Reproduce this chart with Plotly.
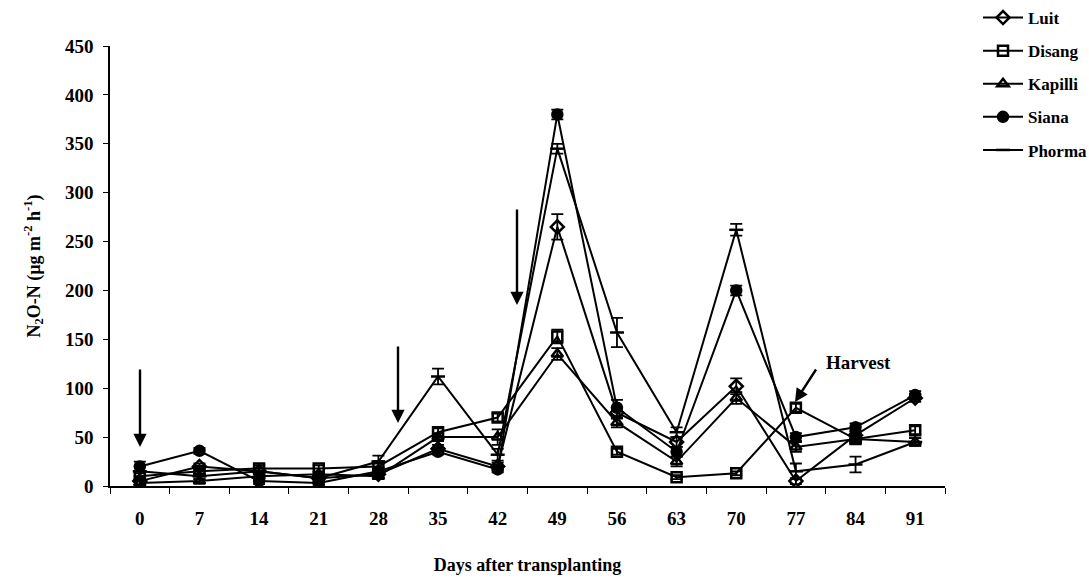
import plotly.graph_objects as go

days = [0, 7, 14, 21, 28, 35, 42, 49, 56, 63, 70, 77, 84, 91]
day_labels = [str(d) for d in days]

luit = [5, 20, 15, 8, 12, 38, 20, 265, 75, 45, 102, 5, 52, 90]
luit_err = [3, 3, 3, 2, 3, 4, 4, 13, 6, 5, 8, 3, 4, 4]

disang = [10, 15, 18, 18, 20, 55, 70, 153, 35, 9, 13, 80, 48, 57]
disang_err = [3, 3, 3, 3, 3, 4, 4, 7, 3, 2, 2, 4, 4, 4]

kapilli = [3, 5, 10, 12, 10, 50, 50, 135, 65, 25, 90, 40, 48, 45]
kapilli_err = [2, 2, 3, 2, 3, 4, 8, 6, 5, 5, 6, 5, 4, 4]

siana = [20, 36, 5, 3, 15, 35, 17, 380, 80, 35, 200, 50, 60, 93]
siana_err = [5, 3, 3, 2, 3, 3, 3, 5, 8, 5, 5, 4, 4, 4]

phorma = [15, 10, 15, 8, 25, 112, 32, 345, 157, 55, 262, 15, 22, 45]
phorma_err = [5, 3, 3, 3, 6, 8, 6, 5, 15, 5, 6, 8, 8, 4]

series = [
    ("Luit", luit, luit_err, "diamond-open"),
    ("Disang", disang, disang_err, "square-open"),
    ("Kapilli", kapilli, kapilli_err, "triangle-up-open"),
    ("Siana", siana, siana_err, "circle"),
    ("Phorma", phorma, phorma_err, "line-ew"),
]

FONT = "Liberation Serif"

fig = go.Figure()
for i, (name, vals, err, sym) in enumerate(series):
    fig.add_trace(go.Scatter(
        x=day_labels, y=vals, name=name, mode="lines+markers",
        line=dict(color="black", width=2),
        marker=dict(symbol=sym, size=10, color="black",
                    line=dict(color="black", width=2.5)),
        error_y=dict(type="data", array=err, visible=True,
                     color="black", thickness=1.8, width=6),
        legendgroup=f"g{i}",
    ))

# plot-area pixel geometry helpers (for annotations in paper coords)
L, R, T, B = 110, 945, 46, 486
def px(x):
    return (x - L) / (R - L)
def py(y):
    return (B - y) / (B - T)

arrows = [
    (140, 368, 140, 447),
    (398, 345, 398, 423),
    (517, 208, 517, 305),
    (817, 368, 795, 402),
]
annotations = []
for x0, y0, x1, y1 in arrows:
    annotations.append(dict(
        xref="paper", yref="paper", x=px(x1), y=py(y1),
        axref="pixel", ayref="pixel", ax=x0 - x1, ay=y0 - y1,
        showarrow=True, arrowhead=2, arrowsize=1.1, arrowwidth=2.4,
        arrowcolor="black", text=""))
annotations.append(dict(
    xref="paper", yref="paper", x=px(824), y=py(362), xanchor="left",
    yanchor="middle", text="Harvest", showarrow=False,
    font=dict(family=FONT, size=19, color="black", weight="bold")))

fig.update_layout(
    width=1089, height=581,
    margin=dict(l=L, r=1089 - R, t=T, b=581 - B, autoexpand=False),
    paper_bgcolor="white", plot_bgcolor="white",
    font=dict(family=FONT, size=18, color="black", weight="bold"),
    showlegend=True,
    legend=dict(x=px(978), y=py(0), xanchor="left", yanchor="top",
                font=dict(family=FONT, size=17, color="black", weight="bold"),
                traceorder="grouped", tracegroupgap=8,
                itemwidth=40, bgcolor="rgba(0,0,0,0)"),
    annotations=annotations,
)

fig.update_xaxes(
    type="category", tickson="boundaries", ticks="outside", ticklen=6,
    range=[-0.5, 13.5], automargin=False,
    tickcolor="black", showline=True, linecolor="black", linewidth=1.5,
    showgrid=False, zeroline=False, ticklabelstandoff=14,
    tickfont=dict(family=FONT, size=19, color="black", weight="bold"),
    title=dict(text="Days after transplanting", standoff=31,
               font=dict(family=FONT, size=18, color="black", weight="bold")),
)
fig.update_yaxes(
    range=[0, 450], tickvals=list(range(0, 451, 50)), ticks="outside",
    ticklen=5, tickcolor="black", showline=True, linecolor="black",
    linewidth=1.5, showgrid=False, zeroline=False, automargin=False,
    ticklabelstandoff=6,
    tickfont=dict(family=FONT, size=19, color="black", weight="bold"),
    title=dict(text="N<sub>2</sub>O-N (µg m<sup>-2</sup> h<sup>-1</sup>)",
               standoff=20,
               font=dict(family=FONT, size=18, color="black", weight="bold")),
)

fig.write_html("out.html")
